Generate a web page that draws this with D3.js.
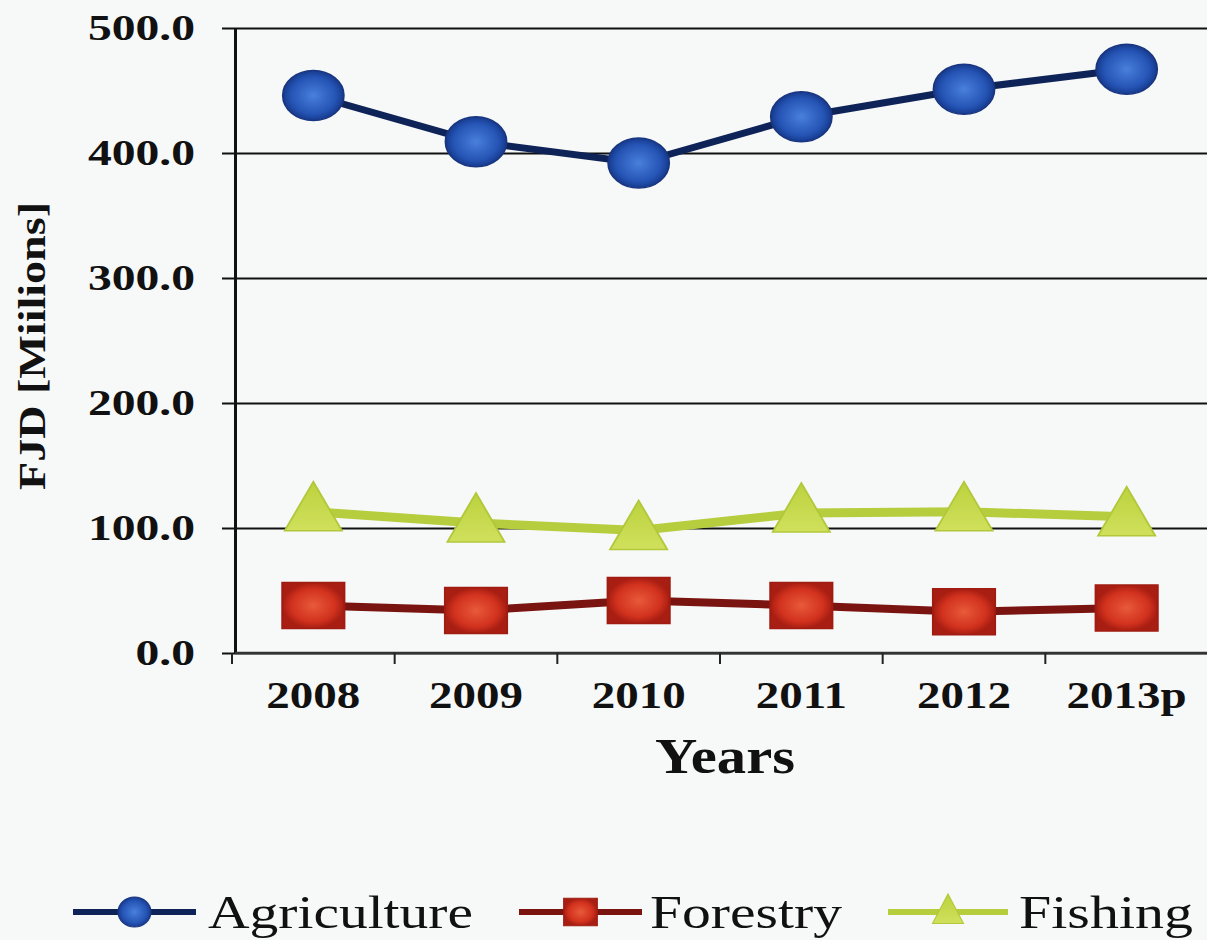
<!DOCTYPE html>
<html>
<head>
<meta charset="utf-8">
<script src="https://cdn.jsdelivr.net/npm/d3@7"></script>
<style>
  html, body { margin: 0; padding: 0; background: #f7f8f8; }
  svg { display: block; font-family: "Liberation Serif", "Times New Roman", Tinos, Times, serif; }
</style>
</head>
<body>
<svg id="chart"></svg>
<script>
// data
const years = ["2008", "2009", "2010", "2011", "2012", "2013p"];
const agriculture = [446, 409, 392, 429, 451, 467];
const forestry = [38, 34, 42, 38, 33, 36];
const fishing = [113, 104, 98, 112, 113, 109];
const yTicks = [0, 100, 200, 300, 400, 500];
const seriesNames = ["Agriculture", "Forestry", "Fishing"];

const width = 1207, height = 940;
const margin = { left: 235, right: 0, top: 28, bottom: 287 };
const serif = "'Liberation Serif', 'Times New Roman', Tinos, Times, serif";

const series = [
  { name: seriesNames[0], values: agriculture, line: "#0e2458", lineWidth: 7, marker: "circle" },
  { name: seriesNames[1], values: forestry, line: "#7a1410", lineWidth: 8, marker: "square" },
  { name: seriesNames[2], values: fishing, line: "#b6cd3e", lineWidth: 9, marker: "triangle" }
];

const svg = d3.select("#chart")
  .attr("width", width)
  .attr("height", height)
  .style("background", "#f7f8f8");

const defs = svg.append("defs");
const blueGrad = defs.append("radialGradient").attr("id", "gBlue");
blueGrad.append("stop").attr("offset", "0%").attr("stop-color", "#4a80dc");
blueGrad.append("stop").attr("offset", "75%").attr("stop-color", "#2453b4");
blueGrad.append("stop").attr("offset", "100%").attr("stop-color", "#163a8c");
const redGrad = defs.append("radialGradient").attr("id", "gRed");
redGrad.append("stop").attr("offset", "0%").attr("stop-color", "#e85a3a");
redGrad.append("stop").attr("offset", "70%").attr("stop-color", "#d2321e");
redGrad.append("stop").attr("offset", "100%").attr("stop-color", "#a81e12");
const greenGrad = defs.append("linearGradient").attr("id", "gGreen")
  .attr("x1", 0).attr("y1", 0).attr("x2", 0).attr("y2", 1);
greenGrad.append("stop").attr("offset", "0%").attr("stop-color", "#bcd23e");
greenGrad.append("stop").attr("offset", "100%").attr("stop-color", "#d0e05c");

const x = d3.scaleBand()
  .domain(years)
  .range([232, width + 1])
  .padding(0);

const y = d3.scaleLinear()
  .domain([0, 500])
  .range([653, margin.top]);

// stretch a text element like the source image, which is wider than tall
const fitTo = (sel, w) => sel.attr("textLength", w).attr("lengthAdjust", "spacingAndGlyphs");
const widen = (sel, f) => sel.each(function() {
  const len = this.getComputedTextLength();
  d3.select(this).attr("textLength", len * f).attr("lengthAdjust", "spacingAndGlyphs");
});

// gridlines
svg.append("g")
  .attr("transform", `translate(${margin.left},0)`)
  .call(d3.axisLeft(y).tickValues(yTicks).tickSize(-(width - margin.left)).tickFormat(""))
  .call(g => g.select(".domain").remove())
  .call(g => g.selectAll(".tick line").attr("stroke", "#111").attr("stroke-width", 2.2));

// y axis with labels
const yAxis = svg.append("g")
  .attr("transform", `translate(${margin.left},0)`)
  .call(d3.axisLeft(y).tickValues(yTicks).tickSize(13).tickSizeOuter(0).tickPadding(27).tickFormat(d3.format(".1f")));
yAxis.select(".domain").attr("stroke", "#111").attr("stroke-width", 3);
yAxis.selectAll(".tick line").attr("stroke", "#111").attr("stroke-width", 2);
yAxis.selectAll(".tick text")
  .attr("fill", "#111")
  .style("font-size", "35px")
  .style("font-weight", "bold")
  .style("font-family", serif)
  .call(widen, 1.36);

// x axis
const xAxis = svg.append("g")
  .attr("transform", `translate(0,${y(0)})`)
  .call(d3.axisBottom(x).tickSize(0).tickPadding(29));
xAxis.select(".domain").attr("stroke", "#333").attr("stroke-width", 2.5)
  .attr("d", `M${margin.left},0H${width}`);
xAxis.selectAll(".tick text")
  .attr("fill", "#111")
  .style("font-size", "37px")
  .style("font-weight", "bold")
  .style("font-family", serif)
  .call(widen, 1.27);

// x tick marks sit on the band edges
xAxis.selectAll(".edge")
  .data(years)
  .enter()
  .append("line")
  .attr("class", "edge")
  .attr("x1", d => x(d))
  .attr("x2", d => x(d))
  .attr("y1", 0)
  .attr("y2", 11)
  .attr("stroke", "#222")
  .attr("stroke-width", 2);

// axis titles
svg.append("text")
  .attr("transform", `translate(725,773)`)
  .attr("text-anchor", "middle")
  .style("font-size", "50px")
  .style("font-weight", "bold")
  .style("font-family", serif)
  .attr("fill", "#111")
  .text("Years")
  .call(fitTo, 140);

svg.append("text")
  .attr("transform", `translate(45,346) rotate(-90)`)
  .attr("text-anchor", "middle")
  .style("font-size", "38px")
  .style("font-weight", "bold")
  .style("font-family", serif)
  .attr("fill", "#111")
  .text("FJD [Miilions]")
  .call(fitTo, 288);

// marker shapes
const markerPath = (type, scale) => {
  if (type === "circle") return d3.symbol(d3.symbolCircle, Math.PI * 25 * 25 * scale * scale)();
  if (type === "square") return d3.symbol(d3.symbolSquare, 46 * 46 * scale * scale)();
  const p = d3.path();
  p.moveTo(0, -30 * scale);
  p.lineTo(22 * scale, 19 * scale);
  p.lineTo(-22 * scale, 19 * scale);
  p.closePath();
  return p.toString();
};
const markerFill = { circle: "url(#gBlue)", square: "url(#gRed)", triangle: "url(#gGreen)" };
const markerStroke = { circle: "#1a3680", square: "#a01c12", triangle: "#b2c83a" };
const markerScaleX = { circle: 1.22, square: 1.35, triangle: 1.3 };

const line = d3.line()
  .x((d, i) => x(years[i]) + x.bandwidth() / 2)
  .y(d => y(d));

const plot = svg.append("g");
// draw fishing first, then forestry, then agriculture
series.slice().reverse().forEach(s => {
  plot.append("path")
    .datum(s.values)
    .attr("fill", "none")
    .attr("stroke", s.line)
    .attr("stroke-width", s.lineWidth)
    .attr("d", line);

  plot.selectAll(null)
    .data(s.values)
    .enter()
    .append("path")
    .attr("transform", (d, i) => `translate(${x(years[i]) + x.bandwidth() / 2},${y(d)}) scale(${markerScaleX[s.marker]},1)`)
    .attr("d", markerPath(s.marker, 1))
    .attr("fill", markerFill[s.marker])
    .attr("stroke", markerStroke[s.marker])
    .attr("stroke-width", 1.5);
});

// legend
const legendItems = [
  { lineX: [73, 196], text: 208, textW: 265 },
  { lineX: [519, 642], text: 650, textW: 192 },
  { lineX: [888, 1008], text: 1019, textW: 174 }
];
const legendY = 912;
series.forEach((s, i) => {
  const item = legendItems[i];
  const g = svg.append("g");
  g.append("line")
    .attr("x1", item.lineX[0]).attr("x2", item.lineX[1])
    .attr("y1", legendY).attr("y2", legendY)
    .attr("stroke", s.line)
    .attr("stroke-width", 6);
  g.append("path")
    .attr("transform", `translate(${(item.lineX[0] + item.lineX[1]) / 2},${legendY}) scale(${markerScaleX[s.marker] * 0.9},1)`)
    .attr("d", markerPath(s.marker, 0.6))
    .attr("fill", markerFill[s.marker])
    .attr("stroke", markerStroke[s.marker])
    .attr("stroke-width", 1);
  g.append("text")
    .attr("x", item.text)
    .attr("y", 928)
    .style("font-size", "47px")
    .style("font-family", serif)
    .attr("fill", "#111")
    .text(s.name)
    .call(fitTo, item.textW);
});
</script>
</body>
</html>
